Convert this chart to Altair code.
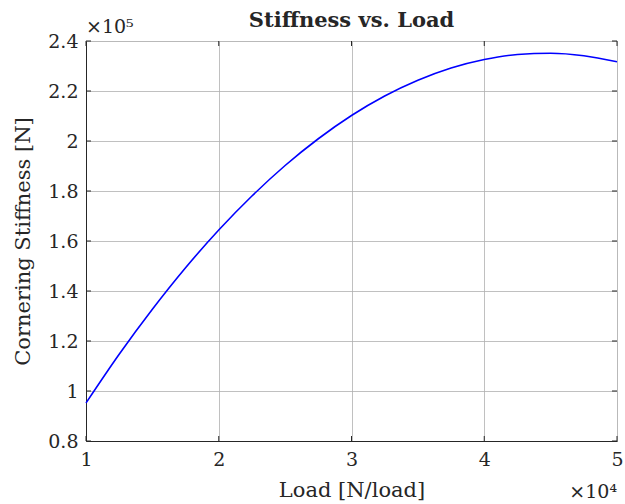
import altair as alt
import pandas as pd

load = [1.0, 1.25, 1.5, 1.75, 2.0, 2.25, 2.5, 2.75, 3.0, 3.25, 3.5, 3.75, 4.0, 4.25, 4.5, 4.75, 5.0]
stiff = [0.952, 1.147, 1.327, 1.493, 1.644, 1.780, 1.902, 2.009, 2.102, 2.180, 2.243, 2.292, 2.326, 2.346, 2.351, 2.341, 2.317]
xticks = [1, 2, 3, 4, 5]
yticks = [0.8, 1.0, 1.2, 1.4, 1.6, 1.8, 2.0, 2.2, 2.4]

df = pd.DataFrame({"load": load, "stiff": stiff})
FONT = "DejaVu Serif"
INK = "#262626"

W, H = 531, 400
TL = 5

xs = alt.Scale(domain=[1, 5], nice=False)
ys = alt.Scale(domain=[0.8, 2.4], nice=False)

line = alt.Chart(df).mark_line(color="#0000ff", strokeWidth=1.6, interpolate="monotone").encode(
    x=alt.X("load:Q", scale=xs, axis=alt.Axis(
        values=xticks, title="Load [N/load]", format="~g", grid=True,
        gridColor="#b0b0b0", gridWidth=0.8, tickSize=0, labelPadding=9,
        labelFontSize=19, titleFontSize=21, labelFont=FONT, titleFont=FONT,
        labelColor=INK, titleColor=INK, titleFontWeight="normal", titlePadding=10,
        domainColor=INK, labelFlush=False)),
    y=alt.Y("stiff:Q", scale=ys, axis=alt.Axis(
        values=yticks, title="Cornering Stiffness [N]", format="~g", grid=True,
        gridColor="#b0b0b0", gridWidth=0.8, tickSize=0, labelPadding=8,
        labelFontSize=19, titleFontSize=21, labelFont=FONT, titleFont=FONT,
        labelColor=INK, titleColor=INK, titleFontWeight="normal", titlePadding=14,
        domainColor=INK, labelFlush=False)),
)

xt = pd.DataFrame({"v": xticks})
yt = pd.DataFrame({"v": yticks})
tick_b = alt.Chart(xt).mark_rule(color=INK, strokeWidth=1).encode(
    x=alt.X("v:Q", scale=xs), y=alt.value(H - TL), y2=alt.value(H))
tick_t = alt.Chart(xt).mark_rule(color=INK, strokeWidth=1).encode(
    x=alt.X("v:Q", scale=xs), y=alt.value(0), y2=alt.value(TL))
tick_l = alt.Chart(yt).mark_rule(color=INK, strokeWidth=1).encode(
    y=alt.Y("v:Q", scale=ys), x=alt.value(0), x2=alt.value(TL))
tick_r = alt.Chart(yt).mark_rule(color=INK, strokeWidth=1).encode(
    y=alt.Y("v:Q", scale=ys), x=alt.value(W - TL), x2=alt.value(W))

exp5 = alt.Chart(pd.DataFrame({"t": ["×10⁵"]})).mark_text(
    align="left", baseline="alphabetic", font=FONT, fontSize=19, color=INK
).encode(text="t:N", x=alt.value(0), y=alt.value(-8))

exp4 = alt.Chart(pd.DataFrame({"t": ["×10⁴"]})).mark_text(
    align="right", baseline="alphabetic", font=FONT, fontSize=19, color=INK
).encode(text="t:N", x=alt.value(W), y=alt.value(H + 57))

title = alt.Chart(pd.DataFrame({"t": ["Stiffness vs. Load"]})).mark_text(
    align="center", baseline="alphabetic", font=FONT, fontSize=21, fontWeight="bold", color=INK
).encode(text="t:N", x=alt.value(W / 2), y=alt.value(-14))

chart = alt.layer(line, tick_b, tick_t, tick_l, tick_r, exp5, exp4, title).properties(
    width=W, height=H,
    autosize=alt.AutoSizeParams(type="none"),
    padding={"left": 86, "top": 41, "right": 8, "bottom": 63},
).configure_view(stroke=INK, strokeWidth=1).configure(background="white")

chart.save("out.html", embed_options={"renderer": "svg", "actions": False})
